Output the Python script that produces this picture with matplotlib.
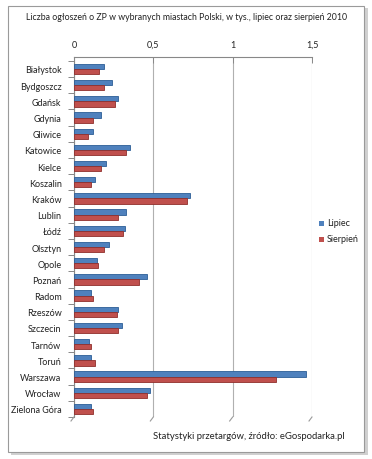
import matplotlib
matplotlib.use("Agg")
import matplotlib.pyplot as plt
from matplotlib.patches import Rectangle
from matplotlib.lines import Line2D
import numpy as np

plt.rcParams['font.family'] = ['Lato', 'DejaVu Sans']

cities = ["Białystok", "Bydgoszcz", "Gdańsk", "Gdynia", "Gliwice", "Katowice",
          "Kielce", "Koszalin", "Kraków", "Lublin", "Łódź", "Olsztyn", "Opole",
          "Poznań", "Radom", "Rzeszów", "Szczecin", "Tarnów", "Toruń",
          "Warszawa", "Wrocław", "Zielona Góra"]
lipiec = [0.19, 0.24, 0.28, 0.17, 0.12, 0.35, 0.20, 0.13, 0.73, 0.33, 0.32,
          0.22, 0.145, 0.46, 0.11, 0.28, 0.30, 0.096, 0.105, 1.465, 0.48, 0.11]
sierpien = [0.16, 0.19, 0.26, 0.12, 0.09, 0.33, 0.17, 0.11, 0.71, 0.275, 0.31,
            0.19, 0.15, 0.41, 0.117, 0.27, 0.28, 0.107, 0.13, 1.27, 0.46, 0.12]
xticks = [0, 0.5, 1, 1.5]
xticklabels = ["0", "0,5", "1", "1,5"]

W, H = 372, 460
fig = plt.figure(figsize=(W / 100, H / 100), dpi=100)
fig.patch.set_facecolor("white")

# outer frame with shadow
fig.add_artist(Rectangle((11 / W, 4 / H), 357 / W, 447 / H, transform=fig.transFigure,
                         facecolor="#d0d0d0", edgecolor="none", zorder=-2))
fig.add_artist(Rectangle((8 / W, 7 / H), 356 / W, 446 / H, transform=fig.transFigure,
                         facecolor="white", edgecolor="#9a9a9a", lw=0.8, zorder=-1))

top_px, bot_px = 58, 418
ax = fig.add_axes([74 / W, 1 - bot_px / H, (312 - 74) / W, (bot_px - top_px) / H])
n = len(cities)
y = np.arange(n)
h = 0.32
blue, red = "#4F81BD", "#C0504D"
ax.barh(y - h / 2, lipiec, height=h, color=blue, edgecolor="#2c5d96", lw=0.6, zorder=3)
ax.barh(y + h / 2, sierpien, height=h, color=red, edgecolor="#8f2f2c", lw=0.6, zorder=3)

ax.set_ylim(n - 0.5, -0.74)
ax.set_xlim(0, 1.5)
ax.set_yticks(y)
ax.set_yticklabels(cities, fontsize=6.5, color="#222222")
ax.set_yticks(np.arange(n + 1) - 0.5, minor=True)
ax.tick_params(axis="y", which="major", length=0, pad=9)
ax.tick_params(axis="y", which="minor", length=4, color="#888888", width=0.7)
ax.xaxis.tick_top()
ax.set_xticks(xticks)
ax.set_xticklabels(xticklabels, fontsize=6.5, color="#222222")
ax.tick_params(axis="x", length=4, color="#888888", width=0.7, direction="in", pad=6)
ax.grid(axis="x", color="#b0b0b0", lw=0.8, zorder=0)
for s in ["bottom", "right"]:
    ax.spines[s].set_visible(False)
for s in ["top", "left"]:
    ax.spines[s].set_color("#888888")
    ax.spines[s].set_linewidth(0.8)

# 3D-style slanted ticks at the floor
for xv in xticks:
    xd = ax.transData.transform((xv, 0))[0]
    x0 = fig.transFigure.inverted().transform((xd, 0))[0]
    fig.add_artist(Line2D([x0, x0 - 3 / W], [1 - bot_px / H, 1 - (bot_px + 4) / H],
                          transform=fig.transFigure, color="#999999", lw=0.8))

fig.text(187 / W, 1 - 17 / H,
         "Liczba ogłoszeń o ZP w wybranych miastach Polski, w tys., lipiec oraz sierpień 2010",
         ha="center", va="center", fontsize=6.3, color="#222222")

# legend
fig.add_artist(Rectangle((319 / W, 1 - 227 / H), 5 / W, 5 / H, transform=fig.transFigure,
                         facecolor=blue, edgecolor="none"))
fig.text(327 / W, 1 - 224 / H, "Lipiec", fontsize=6.5, va="center", color="#222222")
fig.add_artist(Rectangle((319 / W, 1 - 243 / H), 5 / W, 5 / H, transform=fig.transFigure,
                         facecolor=red, edgecolor="none"))
fig.text(327 / W, 1 - 240 / H, "Sierpień", fontsize=6.5, va="center", color="#222222")

fig.text(153 / W, 1 - 437 / H, "Statystyki przetargów, źródło: eGospodarka.pl",
         fontsize=6.8, va="center", color="#222222")

fig.savefig("out.png", dpi=100)
